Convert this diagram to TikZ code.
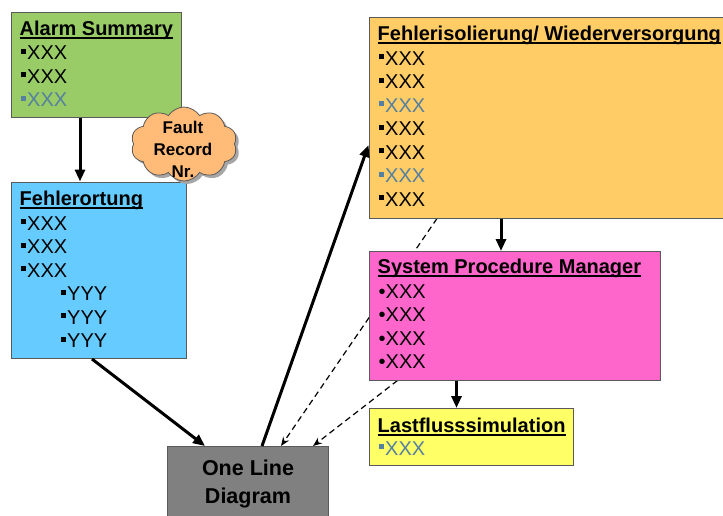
\documentclass[tikz,border=0pt]{standalone}
\usepackage{fontspec}
\setmainfont{Liberation Sans}
\usetikzlibrary{calc,arrows.meta,shapes.symbols,shadows,backgrounds}
\definecolor{cgreen}{HTML}{99CC66}
\definecolor{cblue}{HTML}{66CCFF}
\definecolor{corange}{HTML}{FFCC66}
\definecolor{cmag}{HTML}{FF66CC}
\definecolor{cyel}{HTML}{FFFF66}
\definecolor{cgray}{HTML}{808080}
\definecolor{ccloud}{HTML}{FFBB77}
\definecolor{cbg}{HTML}{5580A0}
\definecolor{cborder}{HTML}{5A5A5A}
\newcommand\bsq[1][black]{\textcolor{#1}{\rule[5.8pt]{5pt}{5pt}}\hspace{1.5pt}}
\newlength\myullen
\newcommand\myul[1]{\settowidth\myullen{#1}\rlap{\rule[-3.6pt]{\myullen}{1.8pt}}#1}
\newcommand\bx{\bsq XXX}
\newcommand\gx{\bsq[cbg]\textcolor{cbg}{XXX}}
\newcommand\by{\bsq YYY}
\newcommand\rx{\textbullet XXX}
\begin{document}
\begin{tikzpicture}[x=1pt,y=-1pt,
  box/.style={draw=cborder, line width=1pt, inner sep=0, anchor=north west},
  txt/.style={anchor=base west, inner sep=0, font=\fontsize{20}{23}\selectfont},
  ttl/.style={anchor=base west, inner sep=0, font=\fontsize{20}{23}\selectfont\bfseries},
  thickarrow/.style={line width=3pt, -{Triangle[length=12pt,width=10pt]}},
  dasharrow/.style={line width=1.2pt, dash pattern=on 6pt off 4pt, -{Stealth[length=9pt,width=7pt]}}]
\useasboundingbox (0,0) rectangle (723,515);
\clip (0,0) rectangle (723,515);

% boxes
\node[box, fill=cgreen, minimum width=170pt, minimum height=104.5pt] (alarm) at (10.5,12) {};
\node[box, fill=cblue, minimum width=175.5pt, minimum height=176.5pt] (fo) at (10.5,181.5) {};
\node[box, fill=corange, minimum width=360pt, minimum height=200.5pt] (fi) at (368.5,17) {};
\node[box, fill=cmag, minimum width=291.5pt, minimum height=128.5pt] (spm) at (368.5,251) {};
\node[box, fill=cyel, minimum width=204.5pt, minimum height=57pt] (lf) at (368.5,408) {};
\node[box, fill=cgray, minimum width=161pt, minimum height=80pt] (old) at (167,446) {};

% cloud
\node[cloud, cloud puffs=10, cloud puff arc=115, aspect=1.45, draw=cborder, line width=0.8pt,
      fill=ccloud, minimum width=106pt, minimum height=74pt, inner sep=0,
      drop shadow={shadow xshift=3pt, shadow yshift=-3pt, fill=gray!70, opacity=1}] (cloud) at (184,144) {};
\node[font=\fontsize{17}{22}\selectfont\bfseries, align=center, inner sep=0, anchor=north] at ($(cloud.center)+(-1,-23)$) {Fault\\Record\\Nr.};

% texts
\node[ttl] at ($(alarm.north west)+(9,23)$) {\myul{Alarm Summary}};
\foreach \t [count=\i] in {\bx,\bx,\gx}
  \node[txt] at ($(alarm.north west)+(10,{47.5+23.5*(\i-1)})$) {\t};

\node[ttl] at ($(fo.north west)+(9,23.5)$) {\myul{Fehlerortung}};
\foreach \t [count=\i] in {\bx,\bx,\bx}
  \node[txt] at ($(fo.north west)+(10,{48.5+23.5*(\i-1)})$) {\t};
\foreach \t [count=\i] in {\by,\by,\by}
  \node[txt] at ($(fo.north west)+(50,{119+23.5*(\i-1)})$) {\t};

\node[ttl] at ($(fi.north west)+(9,23.5)$) {\myul{Fehlerisolierung/ Wiederversorgung}};
\foreach \t [count=\i] in {\bx,\bx,\gx,\bx,\bx,\gx,\bx}
  \node[txt] at ($(fi.north west)+(10,{48+23.5*(\i-1)})$) {\t};

\node[ttl] at ($(spm.north west)+(9,22.5)$) {\myul{System Procedure Manager}};
\foreach \t [count=\i] in {\rx,\rx,\rx,\rx}
  \node[txt] at ($(spm.north west)+(10,{47+23.5*(\i-1)})$) {\t};

\node[ttl] at ($(lf.north west)+(9,24)$) {\myul{Lastflusssimulation}};
\node[txt] at ($(lf.north west)+(10,47)$) {\gx};

\node[font=\fontsize{21.5}{28}\selectfont\bfseries, align=center, inner sep=0, anchor=north] at ($(old.north west)+(81,14)$) {One Line\\Diagram};

% solid connectors
\draw[thickarrow] ([xshift=69.5pt]alarm.south west) -- ([xshift=69.5pt]fo.north west);
\draw[thickarrow] ([xshift=81.5pt]fo.south west) -- ([xshift=38pt]old.north west);
\draw[thickarrow] ([xshift=95pt]old.north west) -- ([yshift=-128pt]fi.north west);
\draw[thickarrow] ([xshift=132.5pt]fi.south west) -- ([xshift=132.5pt]spm.north west);
\draw[thickarrow] ([xshift=88pt]spm.south west) -- ([xshift=88pt]lf.north west);

% dashed connectors (behind boxes)
\begin{pgfonlayer}{background}
\draw[dasharrow] ([xshift=68.5pt]fi.south west) -- ([xshift=114pt]old.north west);
\draw[dasharrow] ([xshift=29pt]spm.south west) -- ([xshift=146pt]old.north west);
\end{pgfonlayer}
\end{tikzpicture}
\end{document}
